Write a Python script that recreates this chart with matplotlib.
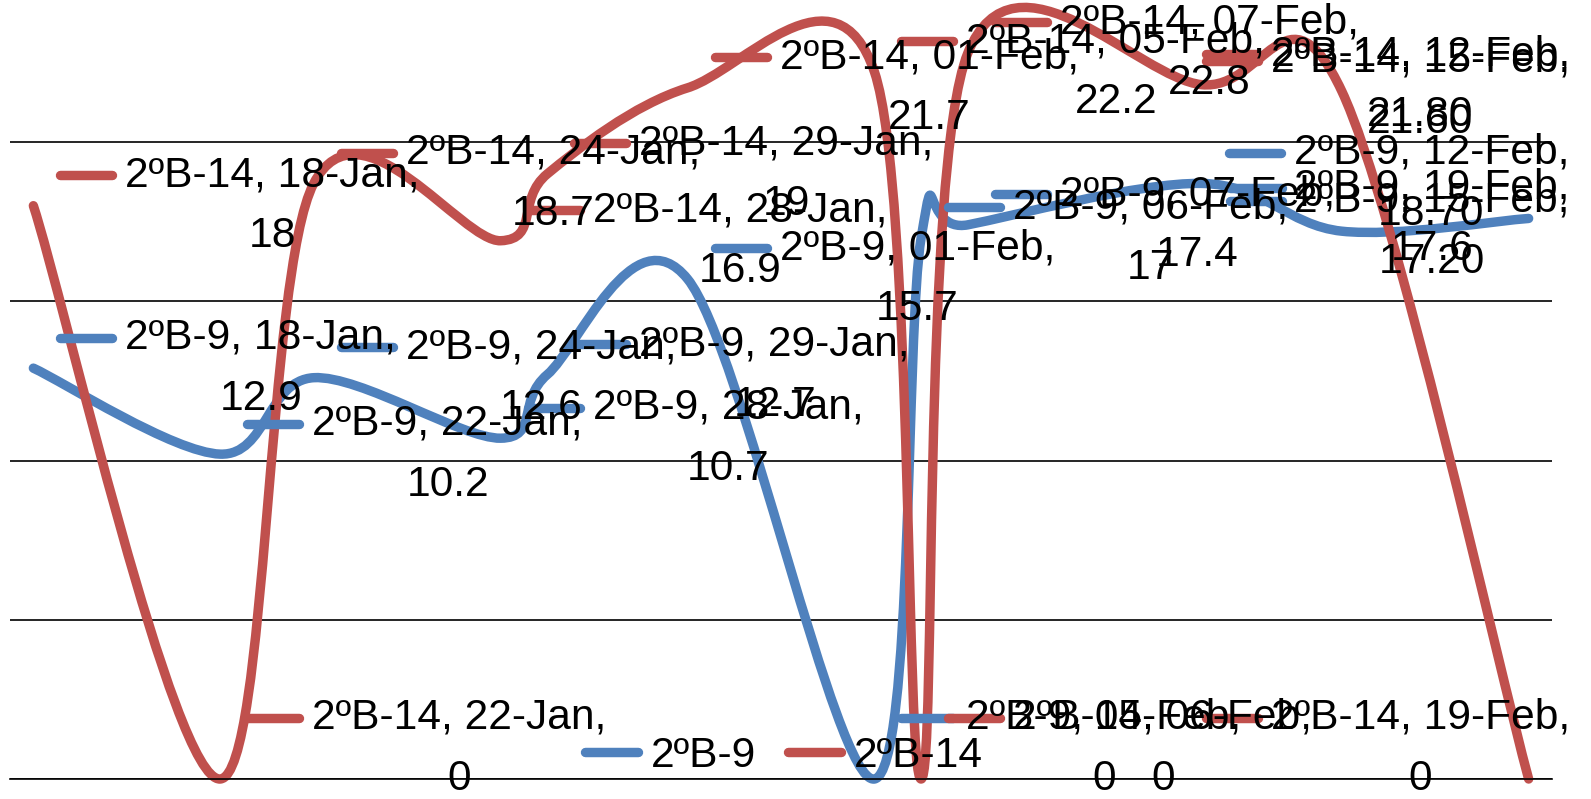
import datetime as dt
import matplotlib
matplotlib.use("Agg")
import matplotlib.pyplot as plt
import matplotlib.dates as mdates
import matplotlib.transforms as mtransforms
from matplotlib.path import Path
from matplotlib.patches import PathPatch
from matplotlib.lines import Line2D

# data
dates = ["18-Jan", "22-Jan", "24-Jan", "28-Jan", "29-Jan", "01-Feb",
         "05-Feb", "06-Feb", "07-Feb", "12-Feb", "15-Feb", "19-Feb"]
b9 = [12.9, 10.2, 12.6, 10.7, 12.7, 15.7, 0, 17, 17.4, 18.7, 17.2, 17.6]
b9_txt = ["12.9", "10.2", "12.6", "10.7", "12.7", "15.7", "0", "17", "17.4",
          "18.70", "17.20", "17.6"]
b14 = [18, 0, 18.7, 16.9, 19, 21.7, 22.2, 0, 22.8, 21.8, 21.6, 0]
b14_txt = ["18", "0", "18.7", "16.9", "19", "21.7", "22.2", "0", "22.8",
           "21.80", "21.60", "0"]

BLUE = "#4F81BD"
RED = "#C0504D"
FS = 30.6
plt.rcParams["font.family"] = ["Liberation Sans", "DejaVu Sans"]

x = [mdates.date2num(dt.datetime.strptime(d + "-2013", "%d-%b-%Y")) for d in dates]


# Excel style smoothed line as cubic bezier segments
def smooth_path(xs, ys):
    pts = list(zip(xs, ys))
    n = len(pts)
    verts = [pts[0]]
    codes = [Path.MOVETO]
    for i in range(n - 1):
        p0 = pts[max(i - 1, 0)]
        p1 = pts[i]
        p2 = pts[i + 1]
        p3 = pts[min(i + 2, n - 1)]
        c1 = (p1[0] + (p2[0] - p0[0]) / 6, p1[1] + (p2[1] - p0[1]) / 6)
        c2 = (p2[0] - (p3[0] - p1[0]) / 6, p2[1] - (p3[1] - p1[1]) / 6)
        verts += [c1, c2, p2]
        codes += [Path.CURVE4] * 3
    return Path(verts, codes)


W, H = 1591, 799
fig = plt.figure(figsize=(W / 100, H / 100), dpi=100)
ax = fig.add_axes([10 / W, 20 / H, 1542 / W, 779 / H])
ax.set_xlim(x[0] - 0.5, x[-1] + 0.5)
ax.set_ylim(0, 779 / 31.85)
ax.set_yticks([0, 5, 10, 15, 20])
ax.yaxis.grid(True, color="black", lw=1.2)
ax.set_axisbelow(True)
ax.tick_params(left=False, bottom=False, labelleft=False, labelbottom=False)
for s in ["left", "right", "top"]:
    ax.spines[s].set_visible(False)
ax.spines["bottom"].set_color("black")
ax.spines["bottom"].set_linewidth(1.2)

for ys, col in [(b9, BLUE), (b14, RED)]:
    patch = PathPatch(smooth_path(x, ys), facecolor="none", edgecolor=col,
                      lw=6.8, joinstyle="round", capstyle="round", clip_on=False)
    ax.add_patch(patch)

ident = mtransforms.IdentityTransform()
renderer = fig.canvas.get_renderer()


def add_labels(name, col, ys, txt):
    for xi, d, v, s in zip(x, dates, ys, txt):
        px, py = ax.transData.transform((xi, v))
        y1 = min(py + 30.5, H - 20)
        if y1 - 61 < 20:
            y1 = 81
        t1 = fig.text(px + 92, y1, f"{name}, {d},", transform=ident,
                      ha="left", va="center", fontsize=FS, zorder=5)
        w = t1.get_window_extent(renderer).width
        shift = max(0, px + 92 + w - 1570)
        t1.set_x(px + 92 - shift)
        fig.add_artist(Line2D([px + 27 - shift, px + 79 - shift], [y1, y1],
                              transform=ident, color=col, lw=6.8,
                              solid_capstyle="round", zorder=4))
        fig.text(px + 92 - shift + w / 2, y1 - 61, s, transform=ident,
                 ha="center", va="center", fontsize=FS, zorder=5)


add_labels("2ºB-9", BLUE, b9, b9_txt)
add_labels("2ºB-14", RED, b14, b14_txt)

handles = [Line2D([], [], color=BLUE, lw=6.8, solid_capstyle="round"),
           Line2D([], [], color=RED, lw=6.8, solid_capstyle="round")]
fig.legend(handles, ["2ºB-9", "2ºB-14"], loc="center",
           bbox_to_anchor=(784 / W, 43 / H), ncol=2, frameon=False,
           fontsize=FS, handlelength=1.25, handletextpad=0.3,
           columnspacing=0.75)

fig.savefig("out.png", dpi=100)
